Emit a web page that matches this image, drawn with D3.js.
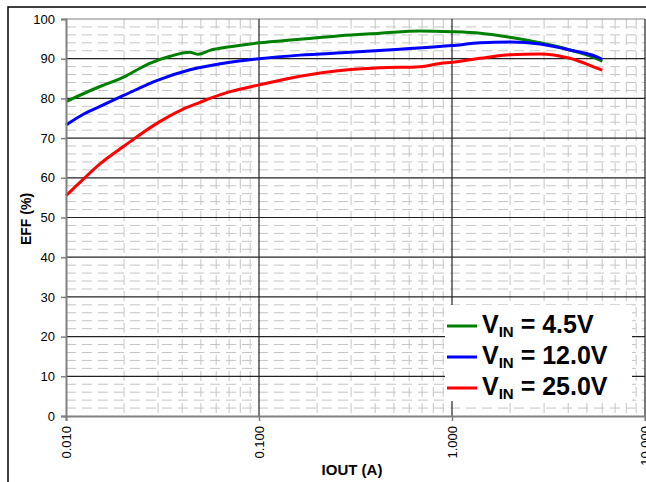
<!DOCTYPE html>
<html>
<head>
<meta charset="utf-8">
<script src="https://cdn.jsdelivr.net/npm/d3@7.9.0/dist/d3.min.js"></script>
<style>
  body { margin: 0; background: #fff; }
  svg { display: block; font-family: "Liberation Sans", Arial, sans-serif; }
</style>
</head>
<body>
<script>
// efficiency curves (IOUT in A, EFF in %)
const iout45 = [0.01, 0.015, 0.02, 0.0242, 0.0272, 0.0346, 0.0439, 0.0485, 0.0557, 0.0708, 0.1, 0.163, 0.263, 0.424, 0.683, 1.0, 1.4, 2.0, 2.86, 4.08, 5.85, 6.0];
const eff45  = [79.2, 83.0, 85.4, 87.6, 88.8, 90.6, 91.6, 91.1, 92.1, 93.0, 94.0, 94.9, 95.8, 96.4, 97.0, 96.8, 96.4, 95.4, 94.0, 92.2, 89.6, 89.3];

const iout12 = [0.01, 0.0125, 0.015, 0.02, 0.03, 0.0439, 0.0708, 0.1, 0.163, 0.296, 0.538, 1.0, 1.4, 2.0, 2.86, 4.08, 5.85, 6.0];
const eff12  = [73.3, 76.2, 78.0, 80.8, 84.6, 87.2, 89.1, 90.0, 90.9, 91.6, 92.4, 93.3, 94.0, 94.2, 93.7, 92.2, 90.1, 89.8];

const iout25 = [0.01, 0.0125, 0.015, 0.02, 0.03, 0.04, 0.0495, 0.0557, 0.0708, 0.1, 0.163, 0.263, 0.424, 0.683, 0.867, 1.0, 1.4, 2.0, 2.86, 4.08, 5.85, 6.0];
const eff25  = [55.5, 60.0, 63.5, 68.0, 73.9, 77.2, 79.0, 80.0, 81.7, 83.4, 85.6, 87.0, 87.7, 88.0, 88.8, 89.1, 90.1, 91.0, 91.2, 90.1, 87.3, 87.1];

const seriesNames = ["4.5V", "12.0V", "25.0V"];
const seriesColors = ["#008000", "#0000ff", "#ff0000"];

const xTicks = [0.01, 0.1, 1, 10];
const xTickLabels = ["0.010", "0.100", "1.000", "10.000"];
const yTicks = [0, 10, 20, 30, 40, 50, 60, 70, 80, 90, 100];

const W = 646, H = 482;
const svg = d3.select("body").append("svg").attr("width", W).attr("height", H);

// outer frame (runs off the right/bottom of the picture)
svg.append("rect")
  .attr("x", 8).attr("y", 7).attr("width", 700).attr("height", 520)
  .attr("fill", "none").attr("stroke", "#000").attr("stroke-width", 1.5);

const x = d3.scaleLog().domain([0.01, 10]).range([66, 645]);
const y = d3.scaleLinear().domain([0, 100]).range([416, 19]);

// minor grid (dashed)
const minorX = [];
[0.01, 0.1, 1].forEach(dec => { for (let k = 2; k <= 9; k++) minorX.push(dec * k); });
const minorY = d3.range(0, 100, 2).filter(v => v % 10 !== 0);

const grid = svg.append("g");
grid.selectAll(".mx").data(minorX).enter().append("line")
  .attr("x1", d => x(d)).attr("x2", d => x(d))
  .attr("y1", y(100)).attr("y2", y(0))
  .attr("stroke", "#c4c4c4").attr("stroke-dasharray", "10,6");
grid.selectAll(".my").data(minorY).enter().append("line")
  .attr("x1", x(0.01)).attr("x2", x(10))
  .attr("y1", d => y(d)).attr("y2", d => y(d))
  .attr("stroke", "#c4c4c4").attr("stroke-dasharray", "10,6");

// major grid
grid.selectAll(".MY").data(yTicks.filter(d => d > 0 && d < 100)).enter().append("line")
  .attr("x1", x(0.01)).attr("x2", x(10))
  .attr("y1", d => y(d)).attr("y2", d => y(d))
  .attr("stroke", "#222").attr("stroke-width", 1.2);
grid.append("line")
  .attr("x1", x(0.01)).attr("x2", x(10)).attr("y1", y(100)).attr("y2", y(100))
  .attr("stroke", "#808080");
grid.selectAll(".MX").data(xTicks.slice(1)).enter().append("line")
  .attr("x1", d => x(d)).attr("x2", d => x(d))
  .attr("y1", y(100)).attr("y2", y(0))
  .attr("stroke", "#222").attr("stroke-width", 1.2);

// curves
const lineGen = d3.line().x(d => x(d[0])).y(d => y(d[1])).curve(d3.curveMonotoneX);
const series = [
  d3.zip(iout45, eff45),
  d3.zip(iout12, eff12),
  d3.zip(iout25, eff25)
];
svg.append("g").selectAll("path").data(series).enter().append("path")
  .attr("d", lineGen)
  .attr("fill", "none")
  .attr("stroke", (d, i) => seriesColors[i])
  .attr("stroke-width", 3);

// axes
const yAxis = svg.append("g").attr("transform", `translate(${x(0.01)},0)`)
  .call(d3.axisLeft(y).tickValues(yTicks).tickSize(5).tickPadding(6).tickFormat(d3.format("d")));
const xAxis = svg.append("g").attr("transform", `translate(0,${y(0)})`)
  .call(d3.axisBottom(x).tickValues(xTicks).tickSize(5).tickFormat((d, i) => xTickLabels[i]));

[yAxis, xAxis].forEach(ax => {
  ax.select(".domain").attr("stroke", "#808080").attr("stroke-width", 2);
  ax.selectAll(".tick line").attr("stroke", "#808080").attr("stroke-width", 1.5);
  ax.selectAll("text").attr("fill", "#000").style("font-size", "13px")
    .style("font-family", "'Liberation Sans', Arial, sans-serif");
});
xAxis.selectAll(".tick text")
  .attr("transform", "rotate(-90)")
  .attr("text-anchor", "end")
  .attr("x", -10).attr("y", 0).attr("dy", "0.35em");

// axis titles
svg.append("text")
  .attr("transform", "translate(26,219) rotate(-90)")
  .attr("text-anchor", "middle").attr("dy", "0.35em")
  .style("font-size", "14px").style("font-weight", "bold")
  .text("EFF (%)");
svg.append("text")
  .attr("x", 352).attr("y", 475)
  .attr("text-anchor", "middle")
  .style("font-size", "15px").style("font-weight", "bold")
  .text("IOUT (A)");

// legend
const legend = svg.append("g");
legend.append("rect")
  .attr("x", 445).attr("y", 305).attr("width", 187).attr("height", 96)
  .attr("fill", "#fff");
const rowY = [326, 357, 388];
seriesNames.forEach((name, i) => {
  legend.append("line")
    .attr("x1", 447).attr("x2", 477).attr("y1", rowY[i]).attr("y2", rowY[i])
    .attr("stroke", seriesColors[i]).attr("stroke-width", 3);
  const t = legend.append("text")
    .attr("x", 482).attr("y", rowY[i] + 7)
    .style("font-weight", "bold").style("font-size", "25px");
  t.append("tspan").text("V");
  t.append("tspan").attr("dy", 4).style("font-size", "15px").text("IN");
  t.append("tspan").attr("dy", -4).text(" = " + name);
});
</script>
</body>
</html>
